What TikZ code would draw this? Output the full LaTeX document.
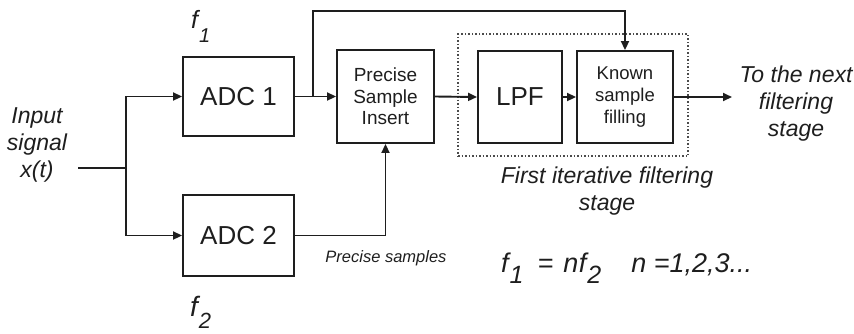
\documentclass[tikz,border=0pt]{standalone}
\usepackage{fontspec}
\setmainfont{Liberation Sans}
\usetikzlibrary{arrows.meta}
\definecolor{ink}{HTML}{1E1E1E}
\tikzset{
  blk/.style={draw=ink, line width=1.9pt, rectangle, inner sep=0pt, text=ink, align=center},
  wire/.style={draw=ink, line width=1.9pt},
  arr/.style={wire, -{Triangle[length=9pt,width=8pt]}},
  lbl/.style={text=ink, align=center, inner sep=0pt, font=\fontsize{23}{27}\selectfont\itshape},
  stagebox/.style={draw=ink!80, line width=1.5pt, dotted, rectangle, inner sep=0pt}
}
% italic f with a lowered index: #1 index size, #2 drop, #3 index
\newcommand{\fidx}[3]{f\kern1pt\raisebox{-#2}{\fontsize{#1}{#1}\selectfont #3}}
\begin{document}
\begin{tikzpicture}[x=1pt,y=-1pt]
\useasboundingbox (0,0) rectangle (854,333);

% processing blocks
\node[blk, minimum width=111pt, minimum height=79pt, font=\fontsize{26}{26}\selectfont] (adc1) at (238.5,96.5) {ADC 1};
\node[blk, minimum width=111pt, minimum height=81pt, font=\fontsize{26}{26}\selectfont] (adc2) at (238.5,235.5) {ADC 2};
\node[blk, minimum width=97pt, minimum height=93pt, font=\fontsize{19}{21.5}\selectfont] (psi) at (385.5,96.5) {Precise\\Sample\\Insert};
\node[blk, minimum width=84pt, minimum height=92pt, font=\fontsize{26}{26}\selectfont] (lpf) at (520,97) {LPF};
\node[blk, minimum width=96pt, minimum height=92pt, font=\fontsize{18.5}{22}\selectfont] (ksf) at (625,97) {Known\\sample\\filling};

% dotted outline of the filtering stage
\node[stagebox, minimum width=230pt, minimum height=122pt] (stage) at (573,95) {};

% labels
\node[lbl] (input) at (37,145) {Input\\signal\\x(t)};
\node[lbl] (next) at (796,104) {To the next\\filtering\\stage};
\node[lbl] (stagelbl) at (607,191) {First iterative filtering\\stage};
\node[lbl, font=\fontsize{16.5}{16.5}\selectfont\itshape] (psamp) at (386,258) {Precise samples};
\node[lbl, font=\fontsize{25}{25}\selectfont\itshape, anchor=base west] (f1) at (191,28) {\fidx{20}{14pt}{1}};
\node[lbl, font=\fontsize{28}{28}\selectfont\itshape, anchor=base west] (f2) at (190,316) {\fidx{22}{12pt}{2}};
\node[lbl, font=\fontsize{27}{27}\selectfont\itshape, anchor=base west] (eq) at (501,272)
  {\fidx{25}{11pt}{1}\kern14pt=\kern10pt n\kern0.5pt\fidx{25}{11pt}{2}\kern30pt n =1,2,3...};

% connectors
\coordinate (in) at (78,168);
\coordinate (split) at (126,168);
\coordinate (tap) at (313,96.5);
\coordinate (top) at (313,11);
\coordinate (out) at (732,97);

\draw[wire] (in) -- (split);
\draw[arr] (split) |- (adc1.west);
\draw[arr] (split) |- (adc2.west);
\draw[arr] (adc1.east) -- (psi.west);
\draw[arr] (tap) -- (top) -| (ksf.north);
\draw[arr] (adc2.east) -| (psi.south);
\draw[arr] (psi.east) -- (lpf.west);
\draw[arr] (lpf.east) -- (ksf.west);
\draw[arr] (ksf.east) -- (out);
\end{tikzpicture}
\end{document}
